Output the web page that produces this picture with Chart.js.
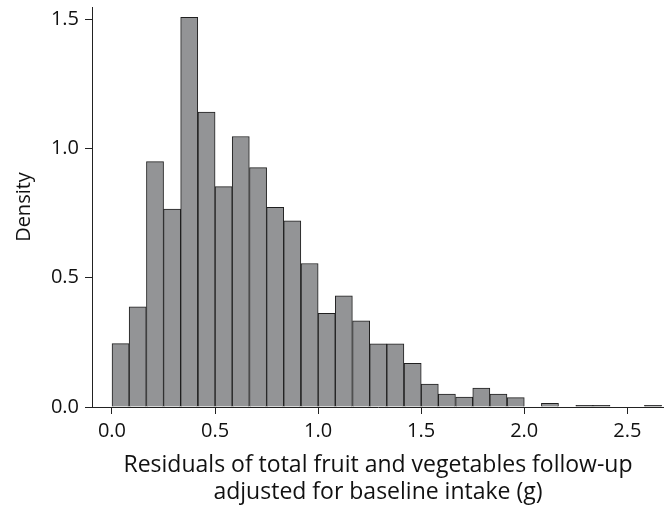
<!DOCTYPE html>
<html>
<head>
<meta charset="utf-8">
<script src="https://cdn.jsdelivr.net/npm/chart.js@4/dist/chart.umd.min.js"></script>
<style>
  html, body { margin: 0; padding: 0; background: #ffffff; }
  canvas { display: block; }
</style>
</head>
<body>
<canvas id="c" width="664" height="506"></canvas>
<script>
// Histogram bins (left edges, width 1/12) and densities
const binWidth = 1 / 12;
const binStarts = [0.000, 0.083, 0.167, 0.250, 0.333, 0.417, 0.500, 0.583,
                   0.667, 0.750, 0.833, 0.917, 1.000, 1.083, 1.167, 1.250,
                   1.333, 1.417, 1.500, 1.583, 1.667, 1.750, 1.833, 1.917,
                   2.000, 2.083, 2.167, 2.250, 2.333, 2.417, 2.500, 2.583];
const densities = [0.245, 0.387, 0.949, 0.765, 1.507, 1.141, 0.852, 1.046,
                   0.926, 0.772, 0.720, 0.555, 0.362, 0.430, 0.333, 0.244,
                   0.244, 0.169, 0.089, 0.050, 0.038, 0.073, 0.050, 0.036,
                   null, 0.014, null, 0.006, 0.006, null, null, 0.006];
const xTicks = [0.0, 0.5, 1.0, 1.5, 2.0, 2.5];
const yTicks = [0.0, 0.5, 1.0, 1.5];
const xTitle = ["Residuals of total fruit and vegetables follow-up", "adjusted for baseline intake (g)"];
const yTitle = "Density";

const points = binStarts.map((s, i) => ({ x: s + binWidth / 2, y: densities[i] }));

const axisColor = '#222222';
const textColor = '#111111';
const fontFamily = "'Open Sans', 'DejaVu Sans', sans-serif";

new Chart(document.getElementById('c'), {
  type: 'bar',
  data: {
    datasets: [{
      data: points,
      backgroundColor: '#939496',
      borderColor: '#1f1f1f',
      borderWidth: 1,
      borderSkipped: 'start',
      barPercentage: 1,
      categoryPercentage: 1
    }]
  },
  options: {
    responsive: false,
    animation: false,
    layout: { padding: { top: 7, left: 0, right: 0, bottom: 0 } },
    plugins: { legend: { display: false }, tooltip: { enabled: false } },
    scales: {
      x: {
        type: 'linear',
        offset: false,
        min: -0.097,
        max: 2.678,
        afterBuildTicks: (s) => { s.ticks = xTicks.map(v => ({ value: v })); },
        afterFit: (s) => { s.height = 99; },
        ticks: {
          color: textColor,
          font: { family: fontFamily, size: 20 },
          padding: 5,
          maxRotation: 0,
          autoSkip: false,
          callback: (v) => Number(v).toFixed(1)
        },
        grid: { display: true, offset: false, drawOnChartArea: false, drawTicks: true, tickLength: 7, color: axisColor, tickWidth: 1 },
        border: { display: true, color: axisColor, width: 1 },
        title: {
          display: true,
          text: xTitle,
          color: textColor,
          font: { family: fontFamily, size: 23, lineHeight: '27px' },
          padding: { top: 0, bottom: 0 }
        }
      },
      y: {
        type: 'linear',
        min: 0,
        max: 1.547,
        afterBuildTicks: (s) => { s.ticks = yTicks.map(v => ({ value: v })); },
        afterFit: (s) => { s.width = 92; s.paddingTop = 0; s.paddingBottom = 0; },
        ticks: {
          color: textColor,
          font: { family: fontFamily, size: 20 },
          padding: 6,
          callback: (v) => Number(v).toFixed(1)
        },
        grid: { display: true, offset: false, drawOnChartArea: false, drawTicks: true, tickLength: 7, color: axisColor, tickWidth: 1 },
        border: { display: true, color: axisColor, width: 1 },
        title: {
          display: true,
          text: yTitle,
          color: textColor,
          font: { family: fontFamily, size: 20 },
          padding: { top: 12, bottom: 0 }
        }
      }
    }
  }
});
</script>
</body>
</html>
